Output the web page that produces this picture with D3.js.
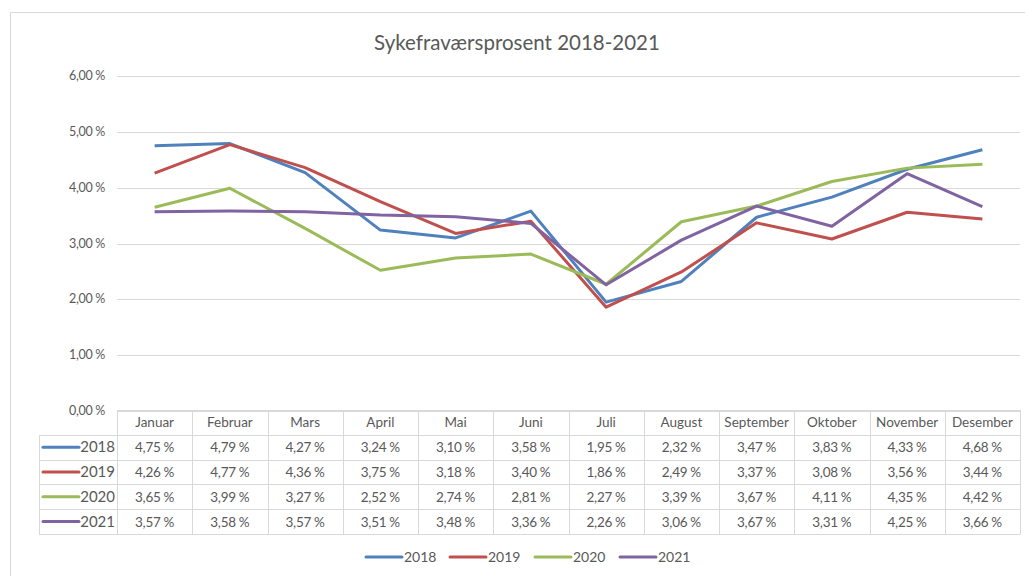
<!DOCTYPE html>
<html>
<head>
<meta charset="utf-8">
<script src="https://cdn.jsdelivr.net/npm/d3@7"></script>
<style>
  body { margin: 0; background: #fff; }
  text { font-family: Lato, "Open Sans", sans-serif; fill: #595959; }
</style>
</head>
<body>
<div id="chart"></div>
<script>
// Month names for the x axis and the data table header.
var months = ["Januar", "Februar", "Mars", "April", "Mai", "Juni", "Juli",
              "August", "September", "Oktober", "November", "Desember"];

// Sick leave in percent, one array per year.
var years = ["2018", "2019", "2020", "2021"];
var v2018 = [4.75, 4.79, 4.27, 3.24, 3.10, 3.58, 1.95, 2.32, 3.47, 3.83, 4.33, 4.68];
var v2019 = [4.26, 4.77, 4.36, 3.75, 3.18, 3.40, 1.86, 2.49, 3.37, 3.08, 3.56, 3.44];
var v2020 = [3.65, 3.99, 3.27, 2.52, 2.74, 2.81, 2.27, 3.39, 3.67, 4.11, 4.35, 4.42];
var v2021 = [3.57, 3.58, 3.57, 3.51, 3.48, 3.36, 2.26, 3.06, 3.67, 3.31, 4.25, 3.66];

var yTicks = [0, 1, 2, 3, 4, 5, 6];
var colors = ["#4f81bd", "#c0504d", "#9bbb59", "#8064a2"];

var series = [v2018, v2019, v2020, v2021].map(function (vals, i) {
  return { year: years[i], values: vals, color: colors[i] };
});

var width = 1025, height = 576;
var plotLeft = 117, plotRight = 1020, plotTop = 76, plotBottom = 411;

// Number format with comma decimal, like "4,75 %".
function pct(v) { return v.toFixed(2).replace(".", ",") + " %"; }

var svg = d3.select("#chart").append("svg")
  .attr("width", width)
  .attr("height", height);

// Chart area border (only top and left are visible in the crop).
svg.append("path")
  .attr("d", "M10.5,576 L10.5,12.5 L1025,12.5")
  .attr("fill", "none")
  .attr("stroke", "#d9d9d9");

svg.append("text")
  .attr("x", 517)
  .attr("y", 50)
  .attr("text-anchor", "middle")
  .attr("font-size", 20.5)
  .text("Sykefraværsprosent 2018-2021");

var x = d3.scaleBand().domain(months).range([plotLeft, plotRight]);
var y = d3.scaleLinear().domain([0, 6]).range([plotBottom, plotTop]);

// Gridlines and y labels.
svg.append("g").selectAll("line")
  .data(yTicks)
  .enter()
  .append("line")
  .attr("x1", plotLeft)
  .attr("x2", plotRight)
  .attr("y1", function (d) { return Math.round(y(d)) + 0.5; })
  .attr("y2", function (d) { return Math.round(y(d)) + 0.5; })
  .attr("stroke", "#d9d9d9")
  .attr("stroke-width", 1);

svg.append("g").selectAll("text")
  .data(yTicks)
  .enter()
  .append("text")
  .attr("x", 105)
  .attr("y", function (d) { return y(d) + 4; })
  .attr("text-anchor", "end")
  .attr("font-size", 12.5)
  .attr("letter-spacing", -0.3)
  .text(function (d) { return pct(d); });

// Lines.
var line = d3.line()
  .x(function (d, i) { return x(months[i]) + x.bandwidth() / 2; })
  .y(function (d) { return y(d); });

svg.append("g").selectAll("path")
  .data(series)
  .enter()
  .append("path")
  .attr("d", function (d) { return line(d.values); })
  .attr("fill", "none")
  .attr("stroke", function (d) { return d.color; })
  .attr("stroke-width", 3)
  .attr("stroke-linejoin", "round");

// Data table under the plot.
var tableTop = 410, rowH = 24.8, keyLeft = 39;
var grid = svg.append("g").attr("stroke", "#d9d9d9").attr("fill", "none");

// horizontal borders
grid.append("line").attr("x1", plotLeft).attr("x2", plotRight)
  .attr("y1", tableTop + 0.5).attr("y2", tableTop + 0.5);
d3.range(1, years.length + 2).forEach(function (r) {
  var yy = Math.round(tableTop + r * rowH) + 0.5;
  grid.append("line").attr("x1", keyLeft).attr("x2", plotRight)
    .attr("y1", yy).attr("y2", yy);
});
// vertical borders
var tableBottom = Math.round(tableTop + (years.length + 1) * rowH) + 0.5;
grid.append("line").attr("x1", keyLeft + 0.5).attr("x2", keyLeft + 0.5)
  .attr("y1", Math.round(tableTop + rowH) + 0.5).attr("y2", tableBottom);
months.concat(["end"]).forEach(function (m, i) {
  var xx = Math.round(plotLeft + i * x.bandwidth()) + 0.5;
  grid.append("line").attr("x1", xx).attr("x2", xx)
    .attr("y1", tableTop).attr("y2", tableBottom);
});

// header row
svg.append("g").selectAll("text")
  .data(months)
  .enter()
  .append("text")
  .attr("x", function (d) { return x(d) + x.bandwidth() / 2; })
  .attr("y", tableTop + rowH / 2 + 4.5)
  .attr("text-anchor", "middle")
  .attr("font-size", 13.5)
  .text(function (d) { return d; });

// value rows with legend keys
series.forEach(function (s, r) {
  var cy = tableTop + (r + 1.5) * rowH;
  svg.append("line")
    .attr("x1", 43).attr("x2", 79)
    .attr("y1", cy).attr("y2", cy)
    .attr("stroke", s.color)
    .attr("stroke-width", 3)
    .attr("stroke-linecap", "round");
  svg.append("text")
    .attr("x", 115)
    .attr("y", cy + 5)
    .attr("text-anchor", "end")
    .attr("font-size", 15)
    .text(s.year);
  svg.append("g").selectAll("text")
    .data(s.values)
    .enter()
    .append("text")
    .attr("x", function (d, i) { return x(months[i]) + x.bandwidth() / 2; })
    .attr("y", cy + 5)
    .attr("text-anchor", "middle")
    .attr("font-size", 13.5)
    .attr("letter-spacing", -0.3)
    .text(function (d) { return pct(d); });
});

// Legend at the bottom.
var legendX = [366, 450, 535, 620];
var legend = svg.append("g").selectAll("g")
  .data(series)
  .enter()
  .append("g")
  .attr("transform", function (d, i) { return "translate(" + legendX[i] + ",557)"; });

legend.append("line")
  .attr("x1", 0).attr("x2", 36)
  .attr("stroke", function (d) { return d.color; })
  .attr("stroke-width", 3)
  .attr("stroke-linecap", "round");

legend.append("text")
  .attr("x", 38)
  .attr("y", 5)
  .attr("font-size", 14)
  .text(function (d) { return d.year; });
</script>
</body>
</html>
